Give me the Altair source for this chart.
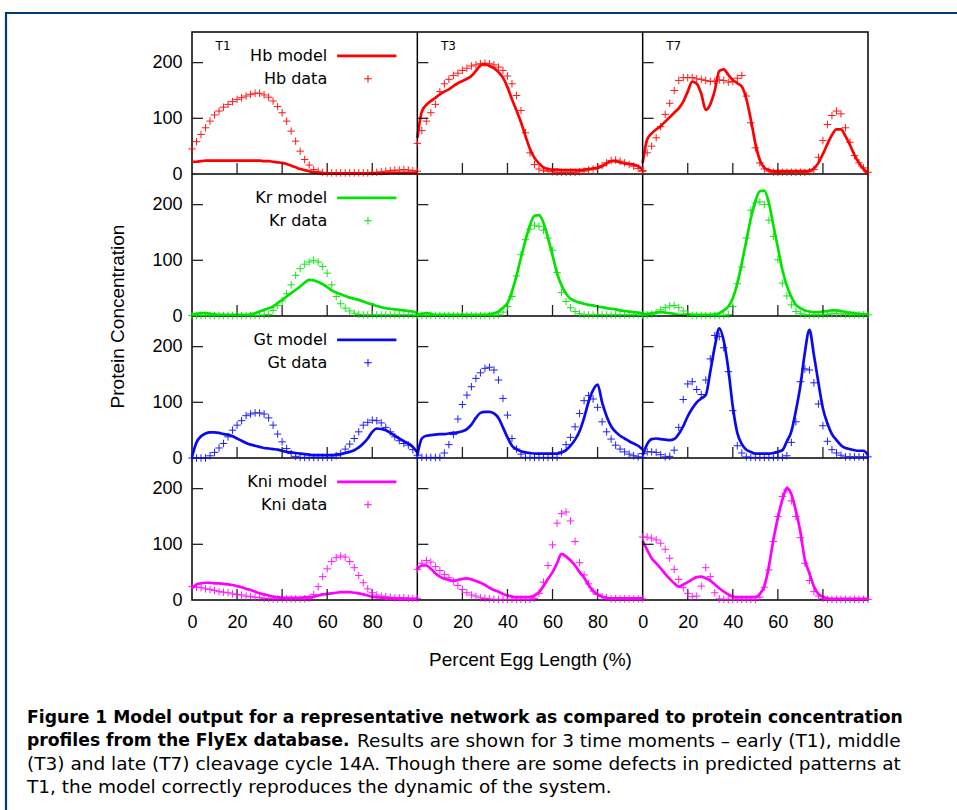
import altair as alt
import pandas as pd

# ---------------- data ----------------
X = list(range(0, 101, 2))  # percent egg length
GENES = ["Hb", "Kr", "Gt", "Kni"]
TIMES = ["T1", "T3", "T7"]
COLORS = ["#ff0000", "#00e400", "#0a0af0", "#ff00ff"]

HB_T1_DATA = [45, 58, 71, 83, 95, 106, 113, 120, 125, 130,
              134, 137, 140, 143, 145, 145, 142, 138, 131, 121,
              110, 95, 77, 59, 41, 26, 16, 8, 5, 3,
              2, 2, 2, 2, 2, 2, 2, 2, 2, 2,
              3, 3, 4, 5, 6, 7, 7, 8, 7, 6,
              5]
HB_T1_MODEL = [22, 22, 23, 24, 24, 24, 24, 24, 24, 24,
               24, 24, 24, 24, 24, 24, 23, 23, 22, 21,
               20, 18, 15, 12, 9, 7, 5, 3, 2, 1,
               1, 1, 1, 1, 1, 1, 1, 1, 1, 1,
               1, 1, 1, 1, 2, 2, 2, 2, 2, 2,
               2]
HB_T3_DATA = [55, 78, 95, 110, 125, 148, 162, 170, 177, 181,
              186, 190, 194, 196, 198, 199, 198, 196, 192, 186,
              176, 162, 141, 114, 74, 38, 17, 9, 6, 5,
              4, 3, 3, 3, 3, 3, 4, 5, 7, 9,
              12, 15, 20, 24, 25, 23, 20, 17, 14, 10,
              6]
HB_T3_MODEL = [65, 112, 124, 131, 137, 143, 148, 152, 158, 163,
               167, 171, 176, 185, 195, 197, 194, 190, 183, 173,
               156, 134, 114, 93, 68, 45, 29, 19, 12, 9,
               8, 8, 7, 7, 7, 7, 7, 8, 9, 10,
               11, 14, 19, 23, 23, 21, 19, 18, 17, 14,
               8]
HB_T7_DATA = [5, 38, 50, 65, 85, 107, 127, 150, 168, 173,
              173, 173, 171, 170, 168, 166, 167, 169, 168, 165,
              166, 172, 177, 140, 92, 47, 20, 9, 5, 3,
              3, 3, 3, 3, 3, 3, 3, 4, 8, 30,
              60, 89, 105, 113, 108, 83, 57, 33, 20, 11,
              3]
HB_T7_MODEL = [20, 62, 73, 80, 86, 94, 102, 110, 118, 130,
               148, 166, 162, 144, 115, 125, 150, 185, 188, 178,
               169, 163, 157, 135, 98, 55, 25, 11, 7, 5,
               5, 5, 5, 5, 5, 5, 5, 6, 10, 20,
               36, 54, 70, 80, 80, 68, 52, 34, 20, 9,
               2]

KR_T1_DATA = [1, 1, 1, 1, 1, 1, 1, 1, 1, 1,
              1, 1, 1, 1, 1, 1, 2, 3, 10, 19,
              27, 40, 56, 73, 85, 93, 97, 100, 97, 89,
              77, 56, 35, 22, 14, 9, 5, 3, 2, 2,
              2, 2, 2, 2, 2, 2, 2, 2, 2, 2,
              2]
KR_T1_MODEL = [3, 4, 5, 5, 4, 3, 2, 2, 2, 2,
               2, 2, 2, 3, 5, 8, 11, 14, 17, 23,
               29, 35, 41, 47, 53, 60, 65, 64, 61, 57,
               52, 46, 42, 39, 36, 33, 31, 29, 26, 23,
               21, 18, 16, 14, 13, 12, 11, 10, 9, 8,
               5]
KR_T3_DATA = [1, 1, 1, 1, 1, 1, 1, 1, 1, 1,
              1, 1, 1, 1, 1, 1, 1, 1, 2, 7,
              17, 35, 72, 110, 137, 156, 163, 161, 154, 140,
              118, 78, 42, 26, 15, 8, 4, 2, 2, 2,
              2, 2, 2, 2, 2, 2, 2, 2, 2, 2,
              2]
KR_T3_MODEL = [3, 4, 5, 4, 2, 2, 2, 2, 2, 2,
               2, 2, 2, 2, 2, 2, 3, 5, 8, 15,
               23, 44, 72, 105, 136, 163, 180, 181, 167, 140,
               109, 77, 55, 40, 31, 27, 24, 22, 20, 19,
               17, 16, 14, 13, 12, 10, 9, 8, 7, 6,
               5]
KR_T7_DATA = [1, 2, 3, 6, 11, 15, 18, 19, 15, 9,
              4, 1, 1, 1, 1, 1, 1, 1, 1, 3,
              17, 58, 88, 140, 190, 203, 205, 200, 172, 143,
              101, 59, 36, 20, 8, 4, 2, 2, 2, 2,
              2, 3, 4, 4, 4, 3, 2, 2, 2, 2,
              2]
KR_T7_MODEL = [3, 4, 5, 6, 7, 6, 5, 4, 2, 2,
               2, 2, 2, 2, 2, 2, 3, 5, 10, 17,
               32, 58, 95, 135, 175, 206, 224, 225, 203, 163,
               123, 83, 54, 34, 20, 14, 10, 8, 7, 7,
               8, 9, 10, 10, 9, 7, 6, 5, 4, 3,
               3]

GT_T1_DATA = [0, 0, 0, 0, 4, 10, 18, 26, 38, 50,
              59, 67, 76, 79, 81, 81, 79, 72, 59, 43,
              29, 17, 8, 3, 1, 1, 1, 1, 1, 1,
              1, 1, 4, 8, 16, 25, 35, 47, 59, 64,
              68, 67, 63, 55, 47, 38, 31, 26, 23, 15,
              5]
GT_T1_MODEL = [2, 28, 39, 44, 46, 46, 45, 43, 42, 39,
               35, 31, 27, 24, 22, 20, 18, 17, 16, 15,
               13, 11, 10, 9, 8, 7, 6, 5, 5, 5,
               5, 5, 6, 7, 9, 11, 14, 19, 26, 35,
               47, 53, 52, 50, 45, 40, 35, 30, 26, 20,
               10]
GT_T3_DATA = [1, 1, 1, 1, 1, 1, 9, 24, 42, 70,
              96, 113, 128, 143, 153, 161, 163, 158, 140, 107,
              77, 35, 16, 7, 1, 1, 1, 1, 1, 1,
              1, 1, 11, 24, 37, 56, 80, 103, 112, 106,
              91, 65, 47, 34, 23, 16, 11, 7, 4, 2,
              1]
GT_T3_MODEL = [5, 35, 40, 41, 42, 43, 43, 44, 45, 46,
               48, 52, 60, 72, 81, 83, 83, 80, 72, 55,
               37, 22, 16, 12, 10, 9, 8, 8, 8, 8,
               8, 8, 10, 14, 22, 33, 48, 72, 101, 122,
               132, 100, 75, 57, 47, 40, 35, 30, 26, 22,
               15]
GT_T7_DATA = [8, 11, 11, 10, 6, 2, 3, 14, 55, 105,
              133, 137, 123, 114, 140, 178, 220, 218, 198, 155,
              85, 22, 9, 2, 1, 1, 1, 1, 1, 1,
              1, 1, 4, 28, 65, 137, 160, 158, 135, 97,
              58, 30, 15, 9, 5, 2, 2, 2, 2, 2,
              2]
GT_T7_MODEL = [5, 25, 34, 35, 34, 33, 32, 34, 43, 57,
               75, 89, 100, 107, 113, 155, 200, 233, 210, 160,
               92, 45, 25, 15, 11, 8, 8, 8, 8, 9,
               11, 14, 30, 48, 85, 130, 190, 230, 185, 135,
               89, 62, 43, 32, 23, 18, 16, 14, 13, 13,
               5]

KNI_T1_DATA = [24, 23, 22, 20, 19, 17, 15, 14, 13, 11,
               10, 9, 7, 6, 5, 4, 3, 3, 2, 2,
               2, 2, 2, 2, 2, 2, 3, 10, 24, 42,
               56, 69, 76, 79, 77, 69, 58, 44, 31, 20,
               13, 9, 7, 6, 5, 4, 4, 4, 3, 3,
               3]
KNI_T1_MODEL = [21, 28, 30, 31, 31, 30, 30, 29, 28, 27,
                25, 23, 20, 18, 15, 12, 10, 8, 6, 5,
                4, 4, 4, 4, 4, 5, 5, 6, 8, 10,
                11, 12, 13, 14, 14, 14, 13, 12, 10, 8,
                6, 5, 4, 3, 3, 3, 2, 2, 2, 2,
                2]
KNI_T3_DATA = [55, 66, 71, 68, 60, 53, 46, 40, 33, 26,
               19, 13, 9, 7, 4, 3, 2, 1, 1, 1,
               1, 1, 1, 1, 1, 1, 3, 12, 32, 62,
               99, 138, 155, 158, 142, 105, 67, 45, 29, 16,
               10, 6, 4, 2, 2, 2, 2, 2, 2, 2,
               2]
KNI_T3_MODEL = [55, 62, 62, 56, 48, 42, 38, 36, 35, 36,
                38, 39, 37, 34, 31, 27, 22, 18, 15, 11,
                8, 6, 5, 5, 5, 5, 8, 14, 25, 38,
                50, 66, 83, 78, 71, 62, 50, 40, 27, 16,
                10, 6, 4, 3, 3, 3, 3, 3, 3, 3,
                3]
KNI_T7_DATA = [113, 113, 111, 108, 102, 91, 75, 55, 37, 22,
               12, 6, 7, 25, 58, 42, 13, 2, 1, 1,
               1, 1, 1, 1, 1, 1, 5, 23, 54, 105,
               150, 186, 198, 178, 150, 112, 66, 35, 15, 7,
               3, 1, 1, 1, 1, 1, 1, 1, 1, 1,
               1]
KNI_T7_MODEL = [106, 90, 75, 66, 57, 47, 38, 30, 24, 28,
                32, 37, 41, 42, 39, 35, 28, 21, 15, 10,
                6, 5, 5, 5, 5, 5, 11, 25, 60, 108,
                148, 180, 201, 190, 160, 122, 72, 48, 24, 11,
                6, 3, 2, 2, 2, 2, 2, 2, 2, 2,
                2]

SERIES = {
    ("Hb", "T1"): (HB_T1_DATA, HB_T1_MODEL),
    ("Hb", "T3"): (HB_T3_DATA, HB_T3_MODEL),
    ("Hb", "T7"): (HB_T7_DATA, HB_T7_MODEL),
    ("Kr", "T1"): (KR_T1_DATA, KR_T1_MODEL),
    ("Kr", "T3"): (KR_T3_DATA, KR_T3_MODEL),
    ("Kr", "T7"): (KR_T7_DATA, KR_T7_MODEL),
    ("Gt", "T1"): (GT_T1_DATA, GT_T1_MODEL),
    ("Gt", "T3"): (GT_T3_DATA, GT_T3_MODEL),
    ("Gt", "T7"): (GT_T7_DATA, GT_T7_MODEL),
    ("Kni", "T1"): (KNI_T1_DATA, KNI_T1_MODEL),
    ("Kni", "T3"): (KNI_T3_DATA, KNI_T3_MODEL),
    ("Kni", "T7"): (KNI_T7_DATA, KNI_T7_MODEL),
}

X_TICK_VALUES = [20, 40, 60, 80]
Y_TICK_VALUES = [100, 200]
CAPTION_BOLD_1 = "Figure 1 Model output for a representative network as compared to protein concentration"
CAPTION_BOLD_2 = "profiles from the FlyEx database."
CAPTION_REG_2 = "Results are shown for 3 time moments \u2013 early (T1), middle"
CAPTION_REG_3 = "(T3) and late (T7) cleavage cycle 14A. Though there are some defects in predicted patterns at"
CAPTION_REG_4 = "T1, the model correctly reproduces the dynamic of the system."

# ---------------- layout ----------------
YSPAN = 255           # vertical data span of one panel row
XSPAN = 100           # horizontal data span of one panel column
NROW, NCOL = len(GENES), len(TIMES)
W, H = 676, 568       # plot area (all 12 panels)
PX_X = W / (NCOL * XSPAN)
PX_Y = H / (NROW * YSPAN)

xs = alt.Scale(domain=[0, NCOL * XSPAN], nice=False, zero=False)
ys = alt.Scale(domain=[0, NROW * YSPAN], nice=False, zero=False)
color_scale = alt.Scale(domain=GENES, range=COLORS)

recs = []
for (g, t), (dat, mod) in SERIES.items():
    gi, ti = GENES.index(g), TIMES.index(t)
    for kind, vals in (("data", dat), ("model", mod)):
        for x, v in zip(X, vals):
            recs.append({"gene": g, "time": t, "kind": kind, "x": x, "y": v,
                         "xg": ti * XSPAN + x, "yg": (NROW - 1 - gi) * YSPAN + v,
                         "key": g + t + kind})
df = pd.DataFrame(recs)
df_model = df[df.kind == "model"]
df_data = df[df.kind == "data"]

FONT = "Liberation Sans"
x_axis_vals = [c * XSPAN + v for c in range(NCOL) for v in (0, 20, 40, 60, 80)]
y_axis_vals = [r * YSPAN + v for r in range(NROW) for v in (0, 100, 200)]

x_axis = alt.Axis(values=x_axis_vals, labelExpr="'' + (datum.value % 100)", tickSize=0,
                  domain=False, grid=False, labelFont=FONT, labelFontSize=18, labelPadding=13,
                  labelColor="black", labelFlush=False, labelOverlap=False,
                  title="Percent Egg Length (%)", titleFont=FONT, titleFontSize=19,
                  titleFontWeight="normal", titleColor="black", titleX=W / 2, titleY=59,
                  titleAlign="center", titleBaseline="middle")
y_axis = alt.Axis(values=y_axis_vals, labelExpr="'' + (datum.value % 255)", tickSize=0,
                  domain=False, grid=False, labelFont=FONT, labelFontSize=18, labelPadding=10,
                  labelColor="black", labelFlush=False, labelOverlap=False,
                  title="Protein Concentration", titleFont=FONT, titleFontSize=19,
                  titleFontWeight="normal", titleColor="black", titleX=-75, titleY=H / 2,
                  titleAngle=270, titleAlign="center", titleBaseline="middle")


def XE(field):
    return alt.X(field, scale=xs, axis=x_axis)


def YE(field):
    return alt.Y(field, scale=ys, axis=y_axis)


lines = alt.Chart(df_model).mark_line(strokeWidth=2.7, interpolate="monotone").encode(
    x=XE("xg:Q"), y=YE("yg:Q"),
    color=alt.Color("gene:N", scale=color_scale, legend=None),
    detail="key:N",
)

PLUS = "M-1,0L1,0M0,-1L0,1"
points = alt.Chart(df_data).mark_point(shape=PLUS, size=56, filled=False, strokeWidth=1,
                                       opacity=0.9).encode(
    x=XE("xg:Q"), y=YE("yg:Q"),
    color=alt.Color("gene:N", scale=color_scale, legend=None),
)

# panel borders
vb = pd.DataFrame({"xg": [c * XSPAN for c in range(1, NCOL)]})
hb = pd.DataFrame({"yg": [r * YSPAN for r in range(1, NROW)]})
vrules = alt.Chart(vb).mark_rule(color="black", strokeWidth=1.5).encode(x=XE("xg:Q"))
hrules = alt.Chart(hb).mark_rule(color="black", strokeWidth=1.5).encode(y=YE("yg:Q"))

# inward ticks
TICK_PX = 11
xt, yt = [], []
for r in range(NROW):
    for c in range(NCOL):
        for v in X_TICK_VALUES:
            xt.append({"xg": c * XSPAN + v, "y": r * YSPAN, "y2": r * YSPAN + TICK_PX / PX_Y})
        for v in Y_TICK_VALUES:
            yt.append({"yg": r * YSPAN + v, "x": c * XSPAN, "x2": c * XSPAN + TICK_PX / PX_X})
xticks = alt.Chart(pd.DataFrame(xt)).mark_rule(color="#222", strokeWidth=1.3).encode(
    x=XE("xg:Q"), y=YE("y:Q"), y2="y2:Q")
yticks = alt.Chart(pd.DataFrame(yt)).mark_rule(color="#222", strokeWidth=1.3).encode(
    y=YE("yg:Q"), x=XE("x:Q"), x2="x2:Q")

# per-row legends inside the first column
leg = pd.DataFrame({
    "gene": GENES,
    "mlabel": [g + " model" for g in GENES],
    "dlabel": [g + " data" for g in GENES],
    "ym": [(NROW - 1 - i) * YSPAN + 212 for i in range(NROW)],
    "yd": [(NROW - 1 - i) * YSPAN + 171 for i in range(NROW)],
    "xt": [60.0] * NROW, "xl1": [64.4] * NROW, "xl2": [90.7] * NROW, "xp": [78.1] * NROW,
})
LEG_FONT = "DejaVu Sans"
leg_mtext = alt.Chart(leg).mark_text(align="right", baseline="middle", font=LEG_FONT,
                                     fontSize=16, color="black").encode(
    x=XE("xt:Q"), y=YE("ym:Q"), text="mlabel:N")
leg_dtext = alt.Chart(leg).mark_text(align="right", baseline="middle", font=LEG_FONT,
                                     fontSize=16, color="black").encode(
    x=XE("xt:Q"), y=YE("yd:Q"), text="dlabel:N")
leg_line = alt.Chart(leg).mark_rule(strokeWidth=2.7).encode(
    x=XE("xl1:Q"), x2="xl2:Q", y=YE("ym:Q"),
    color=alt.Color("gene:N", scale=color_scale, legend=None))
leg_pt = alt.Chart(leg).mark_point(shape=PLUS, size=56, filled=False, strokeWidth=1,
                                   opacity=1).encode(
    x=XE("xp:Q"), y=YE("yd:Q"),
    color=alt.Color("gene:N", scale=color_scale, legend=None))

# time labels
tl = pd.DataFrame({"t": TIMES, "xg": [i * XSPAN + 13.8 for i in range(NCOL)],
                   "yg": [NROW * YSPAN - 14 / PX_Y] * NCOL})
tlabels = alt.Chart(tl).mark_text(font=LEG_FONT, fontSize=12, color="black",
                                  align="center", baseline="middle").encode(
    x=XE("xg:Q"), y=YE("yg:Q"), text="t:N")

# caption and frame (pixel positions relative to the plot area)
one = pd.DataFrame({"a": [0]})
CAP_FONT = "DejaVu Sans"
CAP_SIZE = 18.5
CAP_BOLD_SIZE = 17.2


def cap(txt, px, py, bold):
    return alt.Chart(one).mark_text(text=txt, align="left", baseline="middle", font=CAP_FONT,
                                    fontSize=CAP_BOLD_SIZE if bold else CAP_SIZE, color="black",
                                    fontWeight="bold" if bold else "normal").encode(
        x=alt.value(px), y=alt.value(py))


caps = [
    cap(CAPTION_BOLD_1, -165, 686, True),
    cap(CAPTION_BOLD_2, -165, 709, True),
    cap(CAPTION_REG_2, 165, 709, False),
    cap(CAPTION_REG_3, -165, 732, False),
    cap(CAPTION_REG_4, -165, 755, False),
]

frame = alt.Chart(one).mark_rect(fillOpacity=0, stroke="#003b72", strokeWidth=2.2).encode(
    x=alt.value(-186), x2=alt.value(800), y=alt.value(-19), y2=alt.value(820))

chart = alt.layer(
    lines, frame, vrules, hrules, xticks, yticks, points,
    leg_mtext, leg_dtext, leg_line, leg_pt, tlabels, *caps
).properties(
    width=W, height=H,
    padding={"left": 192, "top": 32, "right": 957 - 192 - W, "bottom": 810 - 32 - H},
    autosize=alt.AutoSizeParams(type="none"),
    background="white",
).configure_view(stroke="black", strokeWidth=1.5)

chart.save("out.html", embed_options={"renderer": "svg", "actions": False})
